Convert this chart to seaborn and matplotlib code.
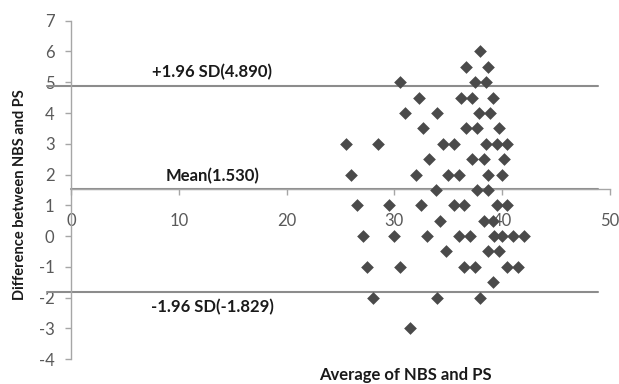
import matplotlib
matplotlib.use("Agg")
import matplotlib.pyplot as plt
import seaborn as sns
import pandas as pd

# Data
avg_values = [38.0,
              36.7, 38.7,
              30.5, 37.5, 38.5,
              32.3, 36.2, 37.2, 39.2,
              31.0, 34.0, 37.9, 38.9,
              32.7, 36.7, 37.7, 39.7,
              25.5, 28.5, 34.5, 35.5, 38.5, 39.5, 40.5,
              33.2, 37.2, 38.3, 40.2,
              26.0, 32.0, 35.0, 36.0, 38.7, 40.0,
              33.9, 37.7, 38.7,
              26.5, 29.5, 32.5, 35.5, 36.5, 39.5, 40.5,
              34.2, 38.3, 39.2,
              27.1, 30.0, 33.0, 36.0, 37.0, 39.3, 40.0, 41.0, 42.0,
              34.8, 38.7, 39.7,
              27.5, 30.5, 36.5, 37.5, 40.5, 41.5,
              39.2,
              28.0, 34.0, 38.0,
              31.5]
diff_values = [6.0,
               5.5, 5.5,
               5.0, 5.0, 5.0,
               4.5, 4.5, 4.5, 4.5,
               4.0, 4.0, 4.0, 4.0,
               3.5, 3.5, 3.5, 3.5,
               3.0, 3.0, 3.0, 3.0, 3.0, 3.0, 3.0,
               2.5, 2.5, 2.5, 2.5,
               2.0, 2.0, 2.0, 2.0, 2.0, 2.0,
               1.5, 1.5, 1.5,
               1.0, 1.0, 1.0, 1.0, 1.0, 1.0, 1.0,
               0.5, 0.5, 0.5,
               0.0, 0.0, 0.0, 0.0, 0.0, 0.0, 0.0, 0.0, 0.0,
               -0.5, -0.5, -0.5,
               -1.0, -1.0, -1.0, -1.0, -1.0, -1.0,
               -1.5,
               -2.0, -2.0, -2.0,
               -3.0]
mean_diff = 1.530
upper_loa = 4.890
lower_loa = -1.829
line_labels = ["+1.96 SD(4.890)", "Mean(1.530)", "-1.96 SD(-1.829)"]
x_ticks = [0, 10, 20, 30, 40, 50]
y_ticks = [-4, -3, -2, -1, 0, 1, 2, 3, 4, 5, 6, 7]

df = pd.DataFrame({"avg": avg_values, "diff": diff_values})

sns.set_style("white")
plt.rcParams['font.family'] = ['Lato', 'DejaVu Sans']

fig = plt.figure(figsize=(6.19, 3.84), dpi=100)
ax = fig.add_axes([0.115, 0.065, 0.87, 0.881])

line_col = "#8c8c8c"
# limit lines (extend slightly left of the y-axis)
ax.plot([-2.2, 48.9], [upper_loa, upper_loa], color=line_col, lw=1.5, zorder=1, clip_on=False)
ax.plot([0, 48.9], [mean_diff, mean_diff], color=line_col, lw=1.5, zorder=1, clip_on=False)
ax.plot([-2.2, 48.9], [lower_loa, lower_loa], color=line_col, lw=1.5, zorder=1, clip_on=False)

sns.scatterplot(data=df, x="avg", y="diff", marker="D", s=42, color="#4a4a4a",
                linewidth=0, ax=ax, zorder=3)

ax.set_xlim(0, 50)
ax.set_ylim(-4, 7)
ax.set_xticks(x_ticks)
ax.set_yticks(y_ticks)
ax.set_xticklabels([str(t) for t in x_ticks])
ax.set_yticklabels([str(t) for t in y_ticks])

for s in ["top", "right"]:
    ax.spines[s].set_visible(False)
ax.spines["left"].set_color("#a6a6a6")
ax.spines["left"].set_linewidth(1.0)
ax.spines["bottom"].set_position(("data", mean_diff))
ax.spines["bottom"].set_color("#a6a6a6")
ax.spines["bottom"].set_linewidth(1.0)

ax.tick_params(axis="both", which="both", direction="out", length=4, width=1,
               color="#a6a6a6", labelcolor="#595959", labelsize=12)
ax.tick_params(axis="x", pad=13, bottom=True)
ax.tick_params(axis="y", pad=8, left=True)

ax.set_xlabel("")
ax.set_ylabel("")

lab_kw = dict(ha="center", va="center", fontsize=12, fontweight="bold", color="#1a1a1a")
ax.text(13.1, 5.34, line_labels[0], **lab_kw)
ax.text(13.1, 1.95, line_labels[1], **lab_kw)
ax.text(13.1, -2.30, line_labels[2], **lab_kw)

fig.text(405 / 619, 1 - 375 / 384, "Average of NBS and PS", ha="center", va="center",
         fontsize=12, fontweight="bold", color="#1a1a1a")
fig.text(20 / 619, 1 - 195 / 384, "Difference between NBS and PS", ha="center", va="center",
         rotation=90, fontsize=10.5, fontweight="bold", color="#1a1a1a")

fig.savefig("out.png", dpi=100)
